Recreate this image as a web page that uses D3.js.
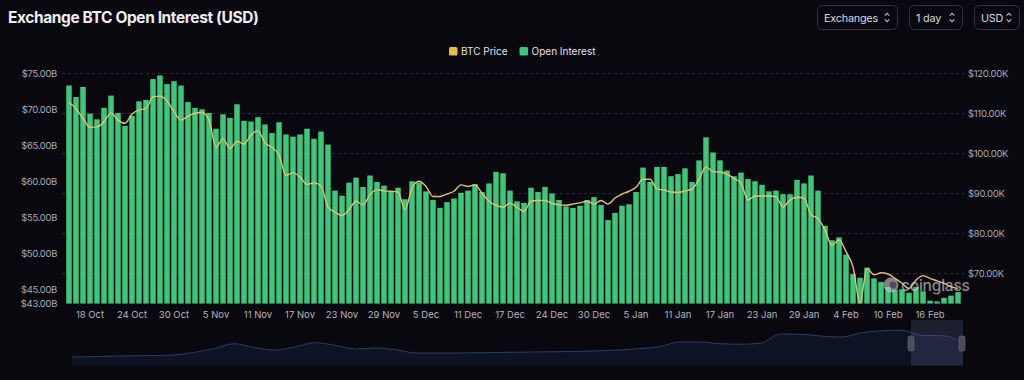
<!DOCTYPE html>
<html>
<head>
<meta charset="utf-8">
<script src="https://cdn.jsdelivr.net/npm/d3@7/dist/d3.min.js"></script>
<style>
  html, body { margin: 0; padding: 0; background: #08080e; }
  svg { display: block; }
  text { font-family: Inter, "Noto Sans", sans-serif; }
</style>
</head>
<body>
<svg id="chart" width="1024" height="380"></svg>
<script>
// ---------------- DATA ----------------
const startDate = "2025-10-15";
const skippedDates = ["2025-12-20"];
const categoryCount = 128;

const openInterest = [
  73.3, 71.7, 73.1, 69.4, 68.6, 70.2, 71.9, 69.5, 67.7, 69.1,
  71.1, 71.3, 74.2, 74.7, 73.5, 73.9, 73.3, 71.0, 70.2, 70.0,
  69.5, 67.3, 69.3, 68.8, 70.7, 68.4, 68.3, 68.9, 67.9, 66.7,
  68.2, 66.5, 66.2, 66.5, 67.3, 65.9, 66.9, 65.1, 58.7, 58.0,
  59.8, 60.5, 59.2, 60.8, 59.9, 59.4, 58.6, 59.1, 57.5, 60.0,
  59.8, 58.6, 57.4, 56.3, 57.1, 57.6, 58.4, 58.7, 59.6, 58.5,
  59.7, 61.3, 61.1, 58.7, 57.2, 57.0, 59.1, 58.5, 59.2, 58.3,
  57.4, 56.5, 56.3, 56.6, 57.4, 57.8, 56.7, 54.6, 55.6, 56.6,
  56.8, 58.5, 61.9, 59.9, 62.0, 62.0, 60.7, 61.0, 61.8, 59.9,
  62.9, 66.1, 64.0, 62.9, 61.5, 60.7, 61.2, 60.3, 60.0, 59.5,
  58.6, 58.7, 58.2, 58.2, 60.2, 59.7, 60.8, 58.7, 53.8, 51.8,
  52.2, 49.8, 47.1, 46.6, 48.0, 46.5, 46.0, 45.3, 44.9, 45.0,
  44.5, 45.3, 44.7, 43.4, 43.3, 43.8, 44.1, 44.6
];

const btcPrice = [
  112.7, 111.2, 108.7, 106.5, 106.6, 107.9, 110.1, 108.3, 107.5, 109.8,
  110.8, 111.2, 114.1, 114.3, 113.1, 110.4, 108.3, 109.3, 110.0, 110.2,
  108.3, 101.5, 103.6, 101.2, 103.0, 102.3, 104.6, 105.6, 102.6, 101.5,
  99.6, 94.5, 95.1, 94.1, 92.2, 92.6, 91.8, 86.6, 85.3, 84.4,
  85.9, 88.0, 87.1, 89.6, 90.9, 90.6, 90.5, 90.3, 85.9, 91.3,
  93.0, 91.7, 89.2, 89.2, 89.8, 90.5, 92.1, 91.7, 92.1, 90.0,
  88.0, 87.0, 86.5, 87.5, 86.5, 85.5, 88.0, 88.2, 88.2, 87.5,
  87.1, 87.0, 87.3, 87.6, 88.0, 87.3, 88.2, 87.3, 88.8, 89.8,
  90.5, 91.5, 93.5, 93.5, 91.1, 90.8, 90.3, 90.2, 90.6, 91.0,
  93.5, 96.6, 95.4, 95.3, 94.8, 93.7, 92.5, 88.3, 89.3, 89.3,
  89.3, 89.1, 86.6, 88.3, 89.0, 88.8, 84.6, 83.7, 80.8, 77.0,
  78.3, 75.4, 71.6, 62.6, 71.2, 69.6, 70.1, 69.8, 68.7, 67.5,
  66.2, 68.3, 69.4, 68.7, 68.1, 67.5, 66.6, 66.2
];

const leftTicks = [43, 45, 50, 55, 60, 65, 70, 75];
const rightTicks = [70, 80, 90, 100, 110, 120];
const xTickLabels = ["18 Oct", "24 Oct", "30 Oct", "5 Nov", "11 Nov", "17 Nov", "23 Nov",
  "29 Nov", "5 Dec", "11 Dec", "17 Dec", "24 Dec", "30 Dec", "5 Jan", "11 Jan", "17 Jan",
  "23 Jan", "29 Jan", "4 Feb", "10 Feb", "16 Feb"];

// navigator (full history overview)
const navigatorValues = [
  15.8, 16.5, 17.3, 18.0, 18.5, 19.5, 24.0, 31.0, 40.0, 33.0,
  28.5, 34.0, 41.8, 37.0, 30.4, 32.0, 29.0, 23.0, 23.0, 23.0,
  23.5, 24.0, 24.5, 25.0, 25.5, 26.0, 27.0, 28.5, 31.0, 34.5,
  43.0, 43.0, 40.0, 39.0, 41.0, 57.5, 57.0, 54.0, 52.0, 60.0,
  63.5, 64.5, 55.0, 54.5, 41.3
];

const legendItems = ["BTC Price", "Open Interest"];
const controlLabels = ["Exchanges", "1 day", "USD"];

// ---------------- BUILD CATEGORIES ----------------
const parse = d3.timeParse("%Y-%m-%d");
const fmtKey = d3.timeFormat("%Y-%m-%d");
const fmtLabel = d3.timeFormat("%-d %b");
const categories = [];
{
  let d = parse(startDate);
  while (categories.length < categoryCount) {
    if (!skippedDates.includes(fmtKey(d))) categories.push(fmtKey(d));
    d = d3.timeDay.offset(d, 1);
  }
}
const rows = categories.map((c, i) => ({ c, oi: openInterest[i], price: btcPrice[i] }));

// ---------------- STYLE ----------------
const COL_BG = "#08080e";
const COL_BAR = "#3ec77c";
const COL_LINE = "#e6c16a";
const COL_LEG_Y = "#e8b94e";
const COL_AXIS = "#a9a9b3";
const COL_GRID = "#2a2a34";

const svg = d3.select("#chart");
svg.append("rect").attr("width", 1024).attr("height", 380).attr("fill", COL_BG);

const plotTop = 73.3, plotBottom = 303.6;
const x = d3.scaleBand().domain(categories).range([65.5, 961.5]).paddingInner(0.22).paddingOuter(0.11);
const yL = d3.scaleLinear().domain([43, 75]).range([plotBottom, plotTop]);
const yR = d3.scaleLinear().domain([62.4, 120]).range([plotBottom, plotTop]);

// title
svg.append("text").attr("x", 8).attr("y", 23)
  .attr("fill", "#ededf2").attr("font-size", 15.5).attr("font-weight", 700)
  .attr("letter-spacing", -0.4)
  .text("Exchange BTC Open Interest (USD)");

// controls
const ctrlBoxes = [{ x: 817, w: 80 }, { x: 909, w: 53 }, { x: 974, w: 45 }];
controlLabels.forEach((lab, i) => {
  const b = ctrlBoxes[i];
  const g = svg.append("g").attr("transform", `translate(${b.x},5)`);
  g.append("rect").attr("x", 0.5).attr("y", 0.5).attr("width", b.w).attr("height", 24)
    .attr("rx", 5).attr("fill", "none").attr("stroke", "#34343e");
  g.append("text").attr("x", 7).attr("y", 16.5).attr("fill", "#d8d8de")
    .attr("font-size", 10.8).attr("letter-spacing", -0.2).text(lab);
  const cx = b.w - 10, cy = 12.5;
  g.append("path").attr("d", `M${cx - 2.3},${cy - 1.8} L${cx},${cy - 4.2} L${cx + 2.3},${cy - 1.8} M${cx - 2.3},${cy + 1.8} L${cx},${cy + 4.2} L${cx + 2.3},${cy + 1.8}`)
    .attr("fill", "none").attr("stroke", "#b8b8c0").attr("stroke-width", 1.1);
});

// legend
{
  const g = svg.append("g");
  const colors = [COL_LEG_Y, COL_BAR];
  let cx = 449;
  legendItems.forEach((lab, i) => {
    g.append("rect").attr("x", cx).attr("y", 47).attr("width", 8.5).attr("height", 8.5)
      .attr("rx", 1.5).attr("fill", colors[i]);
    const t = g.append("text").attr("x", cx + 12).attr("y", 55).attr("fill", "#e2e2e8")
      .attr("font-size", 10).text(lab);
    cx += 12 + t.node().getComputedTextLength() + 12;
  });
}

// grid
svg.append("g").selectAll("line").data(rightTicks).join("line")
  .attr("x1", 62).attr("x2", 964)
  .attr("y1", d => Math.round(yR(d)) + 0.5).attr("y2", d => Math.round(yR(d)) + 0.5)
  .attr("stroke", COL_GRID).attr("stroke-dasharray", "3,3");

// bars
svg.append("g").selectAll("rect").data(rows).join("rect")
  .attr("x", d => x(d.c)).attr("width", x.bandwidth())
  .attr("y", d => yL(d.oi)).attr("height", d => plotBottom - yL(d.oi))
  .attr("fill", COL_BAR);

// price line
const line = d3.line().x(d => x(d.c) + x.bandwidth() / 2).y(d => yR(d.price)).curve(d3.curveMonotoneX);
svg.append("path").datum(rows).attr("d", line)
  .attr("fill", "none").attr("stroke", COL_LINE).attr("stroke-width", 1.4);

// axes
const axL = svg.append("g").attr("transform", "translate(60,0)")
  .call(d3.axisLeft(yL).tickValues(leftTicks).tickSize(0).tickPadding(3)
    .tickFormat(d => `$${d.toFixed(2)}B`));
const axR = svg.append("g").attr("transform", "translate(965,0)")
  .call(d3.axisRight(yR).tickValues(rightTicks).tickSize(0).tickPadding(3)
    .tickFormat(d => `$${d.toFixed(2)}K`));
const tickCats = categories.filter(c => xTickLabels.includes(fmtLabel(parse(c))));
const axB = svg.append("g").attr("transform", `translate(0,${plotBottom})`)
  .call(d3.axisBottom(x).tickValues(tickCats).tickSize(0).tickPadding(8)
    .tickFormat(c => fmtLabel(parse(c))));
[axL, axR, axB].forEach(a => {
  a.select(".domain").remove();
  a.selectAll("text").attr("fill", COL_AXIS).attr("font-size", 9.5)
    .attr("font-family", "Inter, 'Noto Sans', sans-serif");
});
axL.selectAll("text").attr("letter-spacing", -0.35);
axR.selectAll("text").attr("letter-spacing", -0.3);
axB.selectAll("text").attr("fill", "#b4b4bd");

// watermark
{
  const g = svg.append("g").attr("opacity", 0.62);
  g.append("circle").attr("cx", 891).attr("cy", 285).attr("r", 7.5).attr("fill", "#c8c8cc");
  g.append("circle").attr("cx", 893).attr("cy", 285).attr("r", 3.5).attr("fill", "#7a7a80");
  g.append("text").attr("x", 901).attr("y", 291).attr("fill", "#d6d6da")
    .attr("font-size", 15.5).attr("font-weight", 500).attr("letter-spacing", -0.2).text("coinglass");
}

// navigator
{
  const nx = d3.scaleLinear().domain([0, navigatorValues.length - 1]).range([72, 963]);
  const ny = d3.scaleLinear().domain([0, 80]).range([365.7, 321.7]);
  const area = d3.area().x((d, i) => nx(i)).y0(365.7).y1(d => ny(d)).curve(d3.curveMonotoneX);
  const nline = d3.line().x((d, i) => nx(i)).y(d => ny(d)).curve(d3.curveMonotoneX);
  svg.append("path").datum(navigatorValues).attr("d", area).attr("fill", "#0e1324");
  svg.append("path").datum(navigatorValues).attr("d", nline).attr("fill", "none")
    .attr("stroke", "#2a3a68").attr("stroke-width", 1);
  svg.append("rect").attr("x", 911).attr("y", 320).attr("width", 52).attr("height", 45.7)
    .attr("fill", "rgba(90,105,150,0.24)");
  [911, 962].forEach(hx => {
    svg.append("rect").attr("x", hx - 3).attr("y", 336).attr("width", 6).attr("height", 15)
      .attr("rx", 2).attr("fill", "#4a4c58").attr("stroke", "#6a6c78").attr("stroke-width", 0.6);
  });
}
</script>
</body>
</html>
